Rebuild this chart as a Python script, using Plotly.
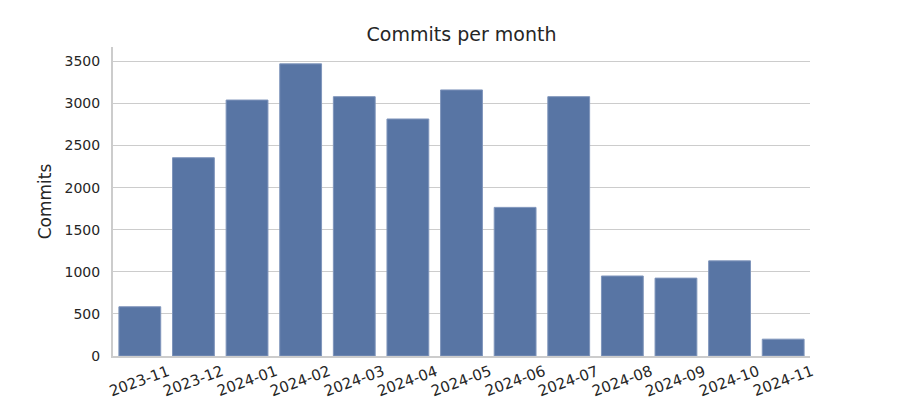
import plotly.graph_objects as go

months = ["2023-11", "2023-12", "2024-01", "2024-02", "2024-03", "2024-04", "2024-05",
          "2024-06", "2024-07", "2024-08", "2024-09", "2024-10", "2024-11"]
commits = [585, 2355, 3040, 3470, 3080, 2815, 3160, 1765, 3080, 950, 925, 1130, 200]
y_ticks = [0, 500, 1000, 1500, 2000, 2500, 3000, 3500]

fig = go.Figure()
fig.add_trace(go.Bar(
    x=months, y=commits,
    marker=dict(color="#5875a4", line=dict(color="#7f95bb", width=1)),
    width=0.78,
))

font = "DejaVu Sans"
fig.update_layout(
    width=900, height=400,
    margin=dict(l=113, r=90, t=47, b=44, autoexpand=False),
    paper_bgcolor="white", plot_bgcolor="white",
    font=dict(family=font, color="#262626", size=14),
    title=dict(text="Commits per month", x=0.5, xanchor="center", xref="paper",
               y=0.915, yanchor="middle", font=dict(size=19, family=font, color="#262626")),
    showlegend=False,
)
fig.update_xaxes(
    type="category", range=[-0.5, 12.5], showticklabels=False, automargin=False,
    showline=True, linecolor="#cccccc", linewidth=2,
    showgrid=False, ticks="",
)
fig.update_yaxes(
    range=[0, 3670], tickvals=y_ticks, showgrid=True, gridcolor="#cccccc", gridwidth=1,
    showline=True, linecolor="#cccccc", linewidth=2, zeroline=False, ticks="",
    ticklabelstandoff=8, automargin=False,
    title=dict(text="Commits", font=dict(size=17, family=font, color="#262626"), standoff=9),
    tickfont=dict(size=14, family=font, color="#262626"),
)
for m in months:
    fig.add_annotation(x=m, xref="x", y=0, yref="paper", yshift=-25, text=m,
                       showarrow=False, textangle=-20, xanchor="center", yanchor="middle",
                       borderpad=0, font=dict(size=15, family=font, color="#262626"))
fig.write_html("out.html")
